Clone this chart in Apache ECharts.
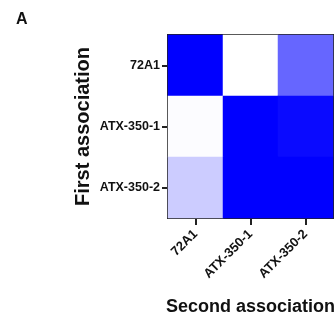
<!DOCTYPE html>
<html><head><meta charset="utf-8">
<script src="https://cdn.jsdelivr.net/npm/echarts@6/dist/echarts.min.js"></script>
<style>html,body{margin:0;padding:0;background:#fff}#c{width:335px;height:321px}</style>
</head><body><div id="c"></div>
<script>
const secondAssoc = ['72A1', 'ATX-350-1', 'ATX-350-2'];
const firstAssoc = ['72A1', 'ATX-350-1', 'ATX-350-2'];
// values per row (first association), columns = second association
const row72A1 = [100, 0, 60];
const rowATX1 = [1, 100, 96];
const rowATX2 = [20, 100, 100];
const rows = [row72A1, rowATX1, rowATX2];
const data = [];
rows.forEach((r, yi) => r.forEach((v, xi) => data.push([xi, yi, v])));
const chart = echarts.init(document.getElementById('c'));
const font = 'Liberation Sans, Arial, sans-serif';
chart.setOption({
  animation: false,
  title: { text: 'A', left: 11, top: 7, textStyle: { fontFamily: font, fontSize: 16, fontWeight: 'bold', color: '#111' } },
  grid: { left: 168, right: 2, top: 35, height: 183, outerBoundsMode: 'none', containLabel: false, show: true, borderColor: '#222', borderWidth: 2, backgroundColor: 'transparent' },
  visualMap: { show: false, min: 0, max: 100, inRange: { color: ['#ffffff', '#0000ff'] } },
  xAxis: {
    type: 'category', data: secondAssoc,
    name: 'Second association', nameLocation: 'middle', nameGap: 80,
    nameTextStyle: { fontFamily: font, fontSize: 18, fontWeight: 'bold', color: '#111' },
    axisLine: { show: true, lineStyle: { color: '#222', width: 2 } },
    axisTick: { show: true, alignWithLabel: true, length: 7, lineStyle: { color: '#222', width: 2 } },
    axisLabel: { rotate: 45, fontFamily: font, fontSize: 13, fontWeight: 'bold', color: '#111', margin: 14 },
    splitLine: { show: false }
  },
  yAxis: {
    type: 'category', data: firstAssoc, inverse: true,
    name: 'First association', nameLocation: 'middle', nameGap: 75, nameRotate: 90,
    nameTextStyle: { fontFamily: font, fontSize: 20, fontWeight: 'bold', color: '#111' },
    axisLine: { show: true, lineStyle: { color: '#222', width: 2 } },
    axisTick: { show: true, alignWithLabel: true, length: 6, lineStyle: { color: '#222', width: 2 } },
    axisLabel: { fontFamily: font, fontSize: 12.5, fontWeight: 'bold', color: '#111', margin: 8 },
    splitLine: { show: false }
  },
  series: [{ type: 'heatmap', data: data, itemStyle: { borderWidth: 0 } }]
});
</script></body></html>
